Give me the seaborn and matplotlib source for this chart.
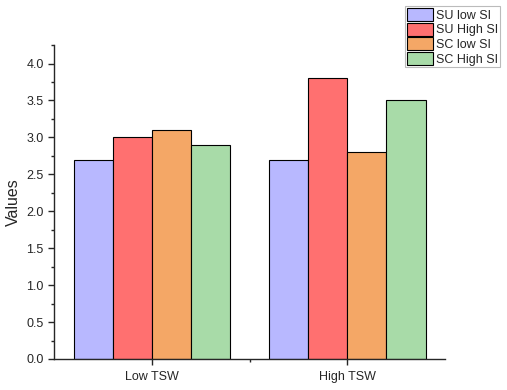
import matplotlib
matplotlib.use("Agg")
import matplotlib.pyplot as plt
import seaborn as sns
import pandas as pd
from matplotlib.ticker import MultipleLocator, FixedLocator

categories = ["Low TSW", "High TSW"]
series = ["SU low SI", "SU High SI", "SC low SI", "SC High SI"]
su_low = [2.7, 2.7]
su_high = [3.0, 3.8]
sc_low = [3.1, 2.8]
sc_high = [2.9, 3.5]
colors = ["#b8b8ff", "#ff7070", "#f4a766", "#a8dba8"]

rows = []
for s, vals in zip(series, [su_low, su_high, sc_low, sc_high]):
    for c, v in zip(categories, vals):
        rows.append({"cat": c, "series": s, "value": v})
df = pd.DataFrame(rows)

sns.set_style("ticks")
plt.rcParams["font.family"] = ["Liberation Sans", "DejaVu Sans"]

fig = plt.figure(figsize=(5.07, 3.9), dpi=100)
ax = fig.add_axes([0.1065, 0.0795, 0.7715, 0.805])
sns.barplot(data=df, x="cat", y="value", hue="series", palette=colors,
            saturation=1, edgecolor="black", linewidth=0.8, width=0.8,
            ax=ax, legend=True)
ax.set_xlim(-0.5, 1.5)
ax.set_ylim(0, 4.25)
ax.yaxis.set_major_locator(MultipleLocator(0.5))
ax.yaxis.set_minor_locator(MultipleLocator(0.25))
ax.xaxis.set_minor_locator(FixedLocator([0.5]))
ax.set_xlabel("")
ax.set_ylabel("Values", fontsize=11.5)
ax.tick_params(axis="both", which="major", labelsize=9, length=4, width=1, direction="out")
ax.tick_params(axis="x", which="major", pad=5)
ax.tick_params(axis="both", which="minor", length=2.5, width=1, direction="out")
sns.despine(ax=ax)
for sp in ["left", "bottom"]:
    ax.spines[sp].set_linewidth(1)

handles, labels = ax.get_legend_handles_labels()
ax.get_legend().remove()
leg = fig.legend(handles, labels, loc="upper right", bbox_to_anchor=(0.986, 0.984),
                 fontsize=9, frameon=True, fancybox=False, edgecolor="#aaaaaa",
                 handlelength=2.1, handleheight=1.2, handletextpad=0.25,
                 labelspacing=0.08, borderpad=0.15, borderaxespad=0)
leg.get_frame().set_linewidth(0.8)

fig.savefig("out.png", dpi=100)
